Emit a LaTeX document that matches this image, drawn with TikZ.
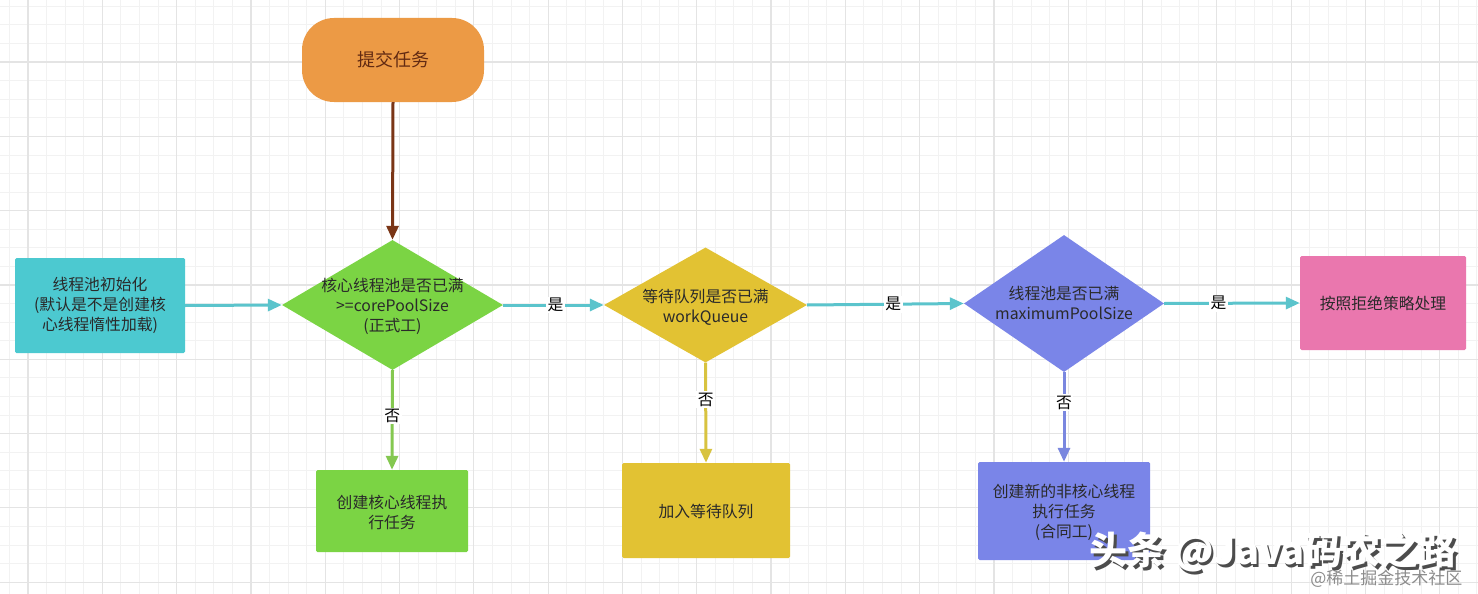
\documentclass[tikz,border=0pt]{standalone}
\usepackage{fontspec}
\setmainfont{Noto Sans CJK SC}
\usetikzlibrary{shapes.geometric,arrows.meta}
\definecolor{cOrange}{HTML}{EC9A45}
\definecolor{cCyan}{HTML}{4CC9D0}
\definecolor{cCyanLine}{HTML}{5BC4CC}
\definecolor{cGreen}{HTML}{7BD444}
\definecolor{cGreenLine}{HTML}{84C850}
\definecolor{cYellow}{HTML}{E2C233}
\definecolor{cYellowLine}{HTML}{D8C340}
\definecolor{cBlue}{HTML}{7A85E8}
\definecolor{cBlueLine}{HTML}{7A87DF}
\definecolor{cPink}{HTML}{EA77AE}
\definecolor{cBrown}{HTML}{7A3516}
\definecolor{cText}{HTML}{2A2A2A}
\definecolor{cMinor}{HTML}{F2F2F2}
\definecolor{cMajor}{HTML}{E4E4E4}
\begin{document}
\begin{tikzpicture}[x=1pt,y=-1pt,
  txt/.style={font=\fontsize{15.8}{20}\selectfont, align=center, text=cText},
  boxnode/.style={rectangle, rounded corners=1.5pt, inner sep=0pt},
  dia/.style={diamond, inner sep=0pt},
  flow/.style={line width=3pt, -{Triangle[length=14pt,width=12pt]}},
  elabel/.style={fill=white, inner sep=1.5pt, font=\fontsize{15.8}{18}\selectfont, text=black},
  minorgrid/.style={draw=cMinor, line width=0.8pt},
  majorgrid/.style={draw=cMajor, line width=1.2pt}
]
\useasboundingbox (0,0) rectangle (1478,594);
\fill[white] (0,0) rectangle (1478,594);
% grid
\foreach \i in {0,...,80} {\draw[minorgrid] ({9.425+18.575*\i},0) -- ++(0,594);}
\foreach \i in {0,...,33} {\draw[minorgrid] (0,{6.3+18.575*\i}) -- ++(1478,0);}
\foreach \i in {0,...,19} {\draw[majorgrid] ({28+74.3*\i},0) -- ++(0,594);}
\foreach \i in {0,...,8} {\draw[majorgrid] (0,{-12.3+74.3*\i}) -- ++(1478,0);}

% start
\node[rectangle, rounded corners=32pt, fill=cOrange, minimum width=182pt, minimum height=84pt] (start) at (393,60) {};
\node[font=\fontsize{18}{20}\selectfont, text=cBrown!80!black] (starttxt) at (393,60) {提交任务};

% init box
\node[boxnode, fill=cCyan, minimum width=170pt, minimum height=95pt] (init) at (100,305.5) {};
\node[txt] (inittxt) at (100,305.5) {线程池初始化\\(默认是不是创建核\\心线程惰性加载)};

% diamonds
\node[dia, fill=cGreen, minimum width=221pt, minimum height=130pt] (d1) at (392.5,305) {};
\node[txt] (d1txt) at (392.5,306) {核心线程池是否已满\\>=corePoolSize\\(正式工)};

\node[dia, fill=cYellow, minimum width=203pt, minimum height=115pt] (d2) at (705.5,305) {};
\node[txt] (d2txt) at (705.5,307) {等待队列是否已满\\workQueue};

\node[dia, fill=cBlue, minimum width=200pt, minimum height=137pt] (d3) at (1064,303.5) {};
\node[txt] (d3txt) at (1064,303) {线程池是否已满\\maximumPoolSize};

% reject
\node[boxnode, fill=cPink, minimum width=166pt, minimum height=94pt] (rej) at (1383,303) {};
\node[txt] (rejtxt) at (1383,303) {按照拒绝策略处理};

% bottom boxes
\node[boxnode, fill=cGreen, minimum width=152pt, minimum height=82pt] (b1) at (392,511) {};
\node[txt] (b1txt) at (392,512) {创建核心线程执\\行任务};

\node[boxnode, fill=cYellow, minimum width=168pt, minimum height=95pt] (b2) at (706,510.5) {};
\node[txt] (b2txt) at (706,511) {加入等待队列};

\node[boxnode, fill=cBlue, minimum width=172pt, minimum height=98pt] (b3) at (1064,511) {};
\node[txt] (b3txt) at (1064,512) {创建新的非核心线程\\执行任务\\(合同工)};

% connectors
\draw[flow, draw=cBrown] (start.south) -- (d1.north);
\draw[flow, draw=cCyanLine] (init.east) -- (d1.west);
\draw[flow, draw=cCyanLine] (d1.east) -- node[elabel, pos=0.52] (l1) {是} (d2.west);
\draw[flow, draw=cCyanLine] (d2.east) -- node[elabel, pos=0.55] (l2) {是} (d3.west);
\draw[flow, draw=cCyanLine] (d3.east) -- node[elabel, pos=0.4] (l3) {是} (rej.west);
\draw[flow, draw=cGreenLine] (d1.south) -- node[elabel, pos=0.46] (l4) {否} (b1.north);
\draw[flow, draw=cYellowLine] (d2.south) -- node[elabel, pos=0.37] (l5) {否} (b2.north);
\draw[flow, draw=cBlueLine] (d3.south) -- node[elabel, pos=0.34] (l6) {否} (b3.north);

% watermarks
\node[font=\fontsize{17}{18}\selectfont, text=black!45, anchor=east] (wm2) at (1466,579) {@稀土掘金技术社区};
\node[font=\bfseries\fontsize{38}{40}\selectfont, text=black!70, anchor=east] (wm1s) at (1462.5,554.5) {头条 @Java码农之路};
\node[font=\bfseries\fontsize{38}{40}\selectfont, text=white, anchor=east] (wm1) at (1460,552) {头条 @Java码农之路};
\end{tikzpicture}
\end{document}
